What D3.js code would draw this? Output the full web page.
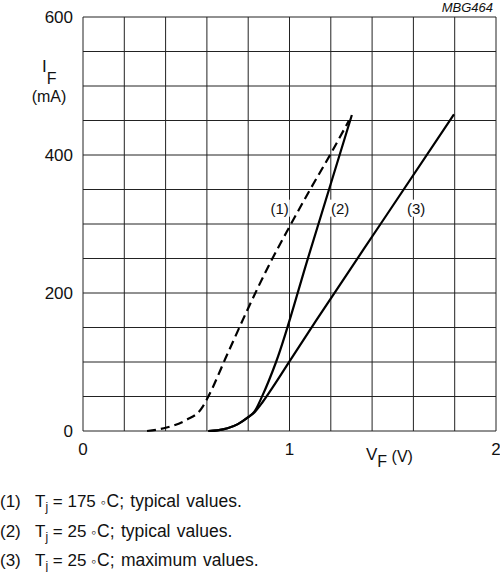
<!DOCTYPE html>
<html>
<head>
<meta charset="utf-8">
<script src="https://cdn.jsdelivr.net/npm/d3@7"></script>
<style>
  html, body { margin: 0; padding: 0; background: #fff; }
  svg { display: block; }
  text { font-family: "Liberation Sans", Arial, Helvetica, sans-serif; fill: #111; }
</style>
</head>
<body>
<svg id="chart" width="500" height="572"></svg>
<script>
// ---- data (VF in V, IF in mA) ----
const xTicks = [0, 1, 2];
const yTicks = [0, 200, 400, 600];
const curve1 = [[0.31,0],[0.405,5],[0.50,16],[0.575,33],[0.60,46],[0.70,112],[0.80,178],[0.90,240],[1.00,296],[1.10,350],[1.20,402],[1.288,450]];
const curve2 = [[0.607,0],[0.65,1],[0.70,4],[0.75,10],[0.80,20],[0.83,28],[0.87,52],[0.935,100],[1.09,251],[1.302,458]];
const curve3 = [[0.607,0],[0.65,1],[0.70,4],[0.75,10],[0.80,20],[0.83,27],[0.87,42],[0.92,64],[1.00,101],[1.131,161],[1.45,304],[1.797,459]];
const labels = [
  {t:"(1)", v:0.952, i:315},
  {t:"(2)", v:1.245, i:315},
  {t:"(3)", v:1.613, i:315}
];
const notes = [
  ["(1)", "175", "typical values."],
  ["(2)", "25", "typical values."],
  ["(3)", "25", "maximum values."]
];

const svg = d3.select("#chart");
const x = d3.scaleLinear().domain([0, 2]).range([83, 496]);
const y = d3.scaleLinear().domain([0, 600]).range([431, 17]);

// grid
const g = svg.append("g");
g.selectAll("line.v").data(d3.range(0, 2.0001, 0.2)).join("line")
  .attr("x1", d => x(d)).attr("x2", d => x(d))
  .attr("y1", y(0)).attr("y2", y(600))
  .attr("stroke", "#222").attr("stroke-width", 1);
g.selectAll("line.h").data(d3.range(0, 600.001, 50)).join("line")
  .attr("y1", d => y(d)).attr("y2", d => y(d))
  .attr("x1", x(0)).attr("x2", x(2))
  .attr("stroke", "#222").attr("stroke-width", 1);

// curve labels with white boxes
const lg = svg.append("g");
labels.forEach(l => {
  const t = lg.append("text").attr("x", x(l.v)).attr("y", y(l.i))
    .attr("text-anchor", "middle").attr("font-size", 15).text(l.t);
  const b = t.node().getBBox();
  lg.insert("rect", "text").attr("x", b.x - 1).attr("y", b.y).attr("width", b.width + 2)
    .attr("height", b.height).attr("fill", "#fff");
});

// curves
const line = d3.line().x(d => x(d[0])).y(d => y(d[1])).curve(d3.curveMonotoneX);
svg.append("path").attr("d", line(curve1)).attr("fill", "none").attr("stroke", "#000")
  .attr("stroke-width", 2.2).attr("stroke-dasharray", "9,5");
svg.append("path").attr("d", line(curve2)).attr("fill", "none").attr("stroke", "#000")
  .attr("stroke-width", 2.2);
svg.append("path").attr("d", line(curve3)).attr("fill", "none").attr("stroke", "#000")
  .attr("stroke-width", 2.2);

// axes tick labels
svg.selectAll("text.yt").data(yTicks).join("text")
  .attr("x", 73).attr("y", d => y(d) + 6).attr("text-anchor", "end")
  .attr("font-size", 17).text(d => d);
svg.selectAll("text.xt").data(xTicks).join("text")
  .attr("x", d => x(d)).attr("y", 455).attr("text-anchor", "middle")
  .attr("font-size", 17).text(d => d);

// axis titles
const yl = svg.append("text").attr("x", 42).attr("y", 72).attr("font-size", 17);
yl.append("tspan").text("I");
yl.append("tspan").attr("dy", 12).attr("font-size", 16).text("F");
svg.append("text").attr("x", 49).attr("y", 102).attr("text-anchor", "middle")
  .attr("font-size", 16).text("(mA)");
const xl = svg.append("text").attr("x", 366).attr("y", 460).attr("font-size", 17);
xl.append("tspan").text("V");
xl.append("tspan").attr("dy", 7).attr("font-size", 16).text("F");
xl.append("tspan").attr("dy", -5).attr("font-size", 16).text(" (V)");

svg.append("text").attr("x", 493).attr("y", 12).attr("text-anchor", "end")
  .attr("font-size", 13).attr("font-style", "italic").text("MBG464");

// notes
notes.forEach((n, k) => {
  const yy = 507 + k * 29.5;
  svg.append("text").attr("x", 0).attr("y", yy).attr("font-size", 17).text(n[0]);
  const t = svg.append("text").attr("x", 35).attr("y", yy).attr("font-size", 17);
  t.append("tspan").text("T");
  t.append("tspan").attr("dy", 4).attr("font-size", 12).text("j");
  t.append("tspan").attr("dy", -4).text(" = " + n[1] + " ");
  t.append("tspan").attr("font-size", 14).text("◦");
  t.append("tspan").attr("dx", 1).attr("font-size", 17.5).attr("word-spacing", 1.5).text("C; " + n[2]);
});
</script>
</body>
</html>
